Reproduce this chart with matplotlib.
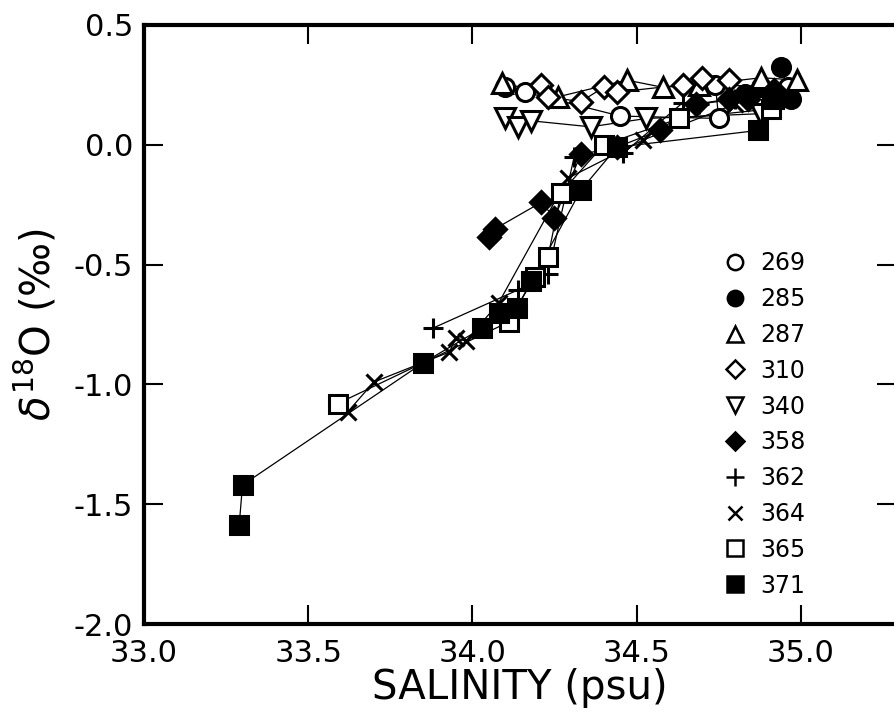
import matplotlib
matplotlib.use('Agg')
import matplotlib.pyplot as plt
from matplotlib.lines import Line2D

plt.rcParams['font.family'] = ['DejaVu Sans']
plt.rcParams['mathtext.fontset'] = 'dejavusans'

# station profiles: salinity (psu), d18O (permil)
sal_269 = [34.96, 34.74, 34.75, 34.45, 34.16, 34.10]
d18_269 = [0.24, 0.25, 0.11, 0.12, 0.22, 0.24]

sal_285 = [34.83, 34.88, 34.91, 34.97, 34.94]
d18_285 = [0.21, 0.24, 0.21, 0.19, 0.325]

sal_287 = [34.09, 34.26, 34.47, 34.58, 34.69, 34.88, 34.99]
d18_287 = [0.26, 0.20, 0.27, 0.24, 0.25, 0.28, 0.27]

sal_310 = [34.21, 34.23, 34.33, 34.40, 34.44, 34.64, 34.70, 34.78]
d18_310 = [0.25, 0.20, 0.18, 0.24, 0.22, 0.25, 0.28, 0.27]

sal_340 = [34.10, 34.14, 34.18, 34.36, 34.53, 34.88]
d18_340 = [0.11, 0.075, 0.10, 0.075, 0.11, 0.13]

sal_358 = [34.05, 34.07, 34.21, 34.25, 34.33, 34.44, 34.57, 34.68, 34.78, 34.84, 34.92]
d18_358 = [-0.385, -0.35, -0.24, -0.305, -0.04, -0.01, 0.06, 0.17, 0.19, 0.19, 0.23]

sal_362 = [33.88, 34.14, 34.23, 34.31, 34.46, 34.64, 34.69, 34.80]
d18_362 = [-0.765, -0.605, -0.54, -0.05, -0.035, 0.175, 0.17, 0.19]

sal_364 = [33.62, 33.70, 33.93, 33.95, 33.98, 34.08, 34.29, 34.52, 34.80]
d18_364 = [-1.115, -0.99, -0.865, -0.805, -0.82, -0.66, -0.14, 0.02, 0.17]

sal_365 = [33.59, 34.11, 34.19, 34.23, 34.27, 34.40, 34.63, 34.91]
d18_365 = [-1.08, -0.74, -0.55, -0.47, -0.20, 0.0, 0.11, 0.15]

sal_371 = [33.29, 33.30, 33.85, 34.03, 34.08, 34.135, 34.18, 34.33, 34.44, 34.87, 34.92]
d18_371 = [-1.585, -1.42, -0.91, -0.765, -0.70, -0.68, -0.57, -0.19, -0.01, 0.06, 0.19]

stations = ['269', '285', '287', '310', '340', '358', '362', '364', '365', '371']
series = [(sal_269, d18_269), (sal_285, d18_285), (sal_287, d18_287), (sal_310, d18_310),
          (sal_340, d18_340), (sal_358, d18_358), (sal_362, d18_362), (sal_364, d18_364),
          (sal_365, d18_365), (sal_371, d18_371)]

# marker, face, size
styles = [('o', 'white', 13), ('o', 'black', 13), ('^', 'white', 14), ('D', 'white', 11),
          ('v', 'white', 14), ('D', 'black', 11), ('+', 'black', 15), ('x', 'black', 12),
          ('s', 'white', 13), ('s', 'black', 13)]

fig = plt.figure(figsize=(8.94, 7.26), dpi=100)
ax = fig.add_axes([144 / 894, 102 / 726, 752 / 894, 599 / 726])

for (x, y) in series:
    ax.plot(x, y, color='black', lw=0.9, zorder=1)

handles = []
for (x, y), (m, fc, ms), name in zip(series, styles, stations):
    ax.plot(x, y, ls='none', marker=m, ms=ms, mfc=fc, mec='black', mew=2.2, zorder=3)
    handles.append(Line2D([], [], ls='none', marker=m, ms=ms * 0.85, mfc=fc,
                          mec='black', mew=1.8, label=name))

ax.set_xlim(33.0, 35.29)
ax.set_ylim(-2.0, 0.5)
ax.set_xticks([33.0, 33.5, 34.0, 34.5, 35.0])
ax.set_xticklabels(['33.0', '33.5', '34.0', '34.5', '35.0'])
ax.set_yticks([-2.0, -1.5, -1.0, -0.5, 0.0, 0.5])
ax.set_yticklabels(['-2.0', '-1.5', '-1.0', '-0.5', '0.0', '0.5'])
ax.tick_params(direction='in', length=14, width=1.5, labelsize=22,
               top=True, right=True)
ax.tick_params(axis='x', pad=11)
ax.tick_params(axis='y', pad=8)
for sp in ax.spines.values():
    sp.set_linewidth(3)

ax.set_xlabel('SALINITY (psu)', fontsize=29, labelpad=0)
ax.set_ylabel(r'$\delta^{18}$O (‰)', fontsize=29, labelpad=10)

leg = ax.legend(handles=handles, loc='upper left', bbox_to_anchor=(0.757, 0.638),
                frameon=False, fontsize=17, labelspacing=0.50, handletextpad=0.6,
                handlelength=1.0, borderaxespad=0)

plt.savefig('out.png', dpi=100)
